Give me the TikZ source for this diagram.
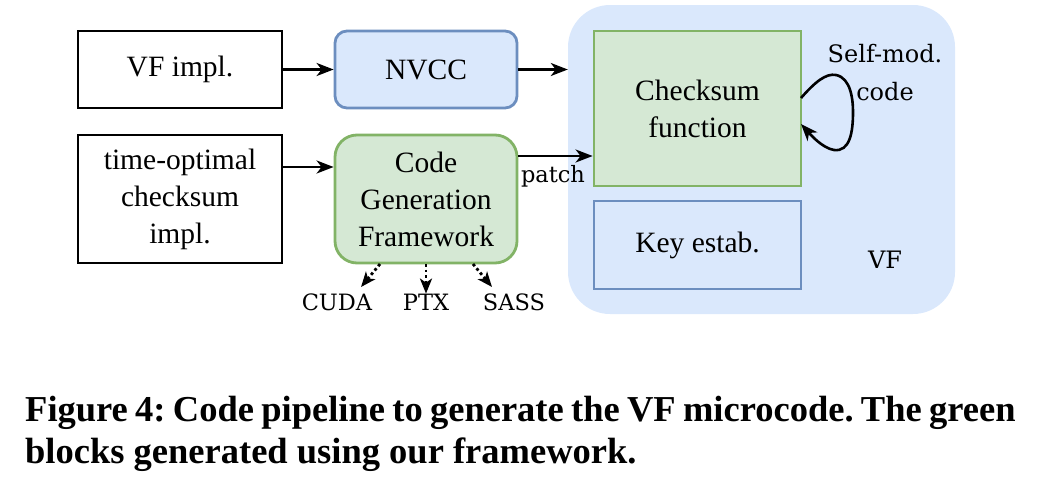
\documentclass[tikz,border=0pt]{standalone}
\usepackage{fontspec}
\setmainfont{Liberation Serif}
\newfontfamily\djs{DejaVu Serif}
\usetikzlibrary{arrows.meta}
\definecolor{bfill}{HTML}{DAE8FC}
\definecolor{bline}{HTML}{6C8EBF}
\definecolor{gfill}{HTML}{D5E8D4}
\definecolor{gline}{HTML}{82B366}
\tikzset{
  boxtext/.style={font=\fontsize{29.5}{37}\selectfont, align=center, inner sep=0pt},
  plainbox/.style={boxtext, draw=black, line width=2.8pt, fill=white},
  bluebox/.style={boxtext, draw=bline, line width=2.8pt, fill=bfill},
  greenbox/.style={boxtext, draw=gline, line width=2.8pt, fill=gfill},
  arr/.style={-{Stealth[length=17pt,width=13pt,inset=5pt]}, line width=2.6pt},
  darr/.style={-{Stealth[length=15pt,width=12pt,inset=4pt]}, line width=2.8pt, dash pattern=on 2.8pt off 2.8pt},
  smalltext/.style={font=\djs\fontsize{22.5}{28}\selectfont, inner sep=0pt},
  captext/.style={font=\bfseries\fontsize{36.5}{42}\selectfont, inner sep=0pt, anchor=base west}
}
\begin{document}
\frenchspacing
\begin{tikzpicture}[x=1pt,y=-1pt]
\useasboundingbox (0,0) rectangle (1040,477);
% container
\node[fill=bfill, rounded corners=42pt, minimum width=387pt, minimum height=309pt, inner sep=0pt] (vf) at (761.5,159.5) {};
% boxes
\node[plainbox, minimum width=204pt, minimum height=77pt] (vfimpl) at (180,69.5) {VF impl.};
\node[bluebox, rounded corners=12pt, minimum width=182pt, minimum height=77pt] (nvcc) at (426,69.5) {NVCC};
\node[plainbox, minimum width=204pt, minimum height=128pt] (topt) at (180,199) {time-optimal\\checksum\\impl.};
\node[greenbox, rounded corners=22pt, minimum width=182pt, minimum height=128pt] (cgf) at (426,199) {Code\\Generation\\Framework};
\node[greenbox, minimum width=207pt, minimum height=155pt] (cs) at (697.5,108.5) {Checksum\\function};
\node[bluebox, minimum width=207pt, minimum height=88pt] (key) at (697.5,245) {Key estab.};
% labels
\node[smalltext, font=\djs\fontsize{24}{28}\selectfont] (selfmod) at (885,54) {Self-mod.};
\node[smalltext, font=\djs\fontsize{24}{28}\selectfont] (code) at (885,92) {code};
\node[smalltext, font=\djs\fontsize{24}{28}\selectfont] (vflbl) at (885,260) {VF};
\node[smalltext] (patch) at (553,176) {patch};
\node[smalltext] (cuda) at (337,302) {CUDA};
\node[smalltext] (ptx) at (426,302) {PTX};
\node[smalltext] (sass) at (514,302) {SASS};
% arrows
\draw[arr] (vfimpl.east) -- (nvcc.west);
\draw[arr] (nvcc.east) -- (nvcc.east -| vf.west);
\draw[arr] (topt.east |- 0,167) -- (cgf.west |- 0,167);
\draw[arr] (cgf.east |- 0,156) -- (cs.west |- 0,156);
\coordinate (d1) at (380,264);
\coordinate (d2) at (426,264);
\coordinate (d3) at (473,264);
\coordinate (e1) at (361,287);
\coordinate (e3) at (492,287);
\draw[darr] (d1) -- (e1);
\draw[darr] (d2) -- (ptx.north);
\draw[darr] (d3) -- (e3);
\coordinate (la) at (801,98);
\coordinate (lb) at (801,124);
\draw[arr] (la) .. controls (815,82) and (826,73) .. (836,75)
  .. controls (851,78) and (853,100) .. (853,112)
  .. controls (853,132) and (850,152) .. (834,150)
  .. controls (822,148) and (810,134) .. (lb);
% caption
\node[captext] (cap1) at (25,421) {\spaceskip=7.3pt Figure 4: Code pipeline to generate the VF microcode. The green};
\node[captext] (cap2) at (25,463) {blocks generated using our framework.};
\end{tikzpicture}
\end{document}
